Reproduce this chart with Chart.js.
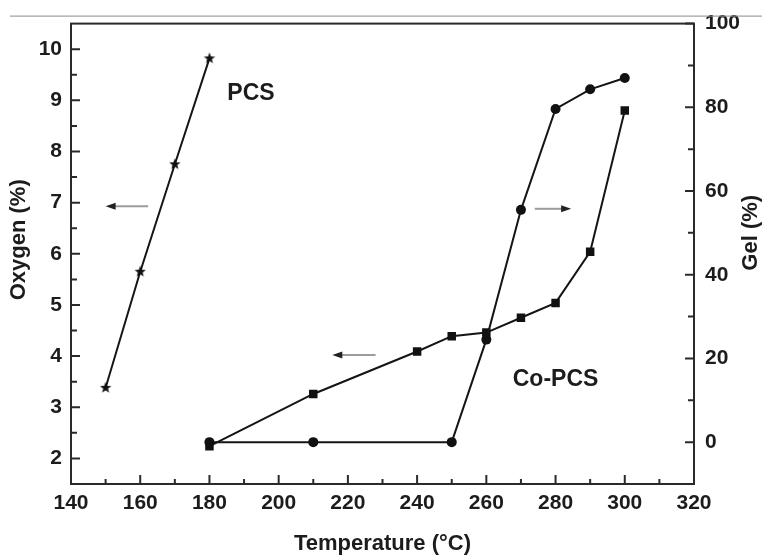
<!DOCTYPE html>
<html>
<head>
<meta charset="utf-8">
<script src="https://cdn.jsdelivr.net/npm/chart.js@4.4.1/dist/chart.umd.min.js"></script>
<style>
  html, body { margin: 0; padding: 0; background: #fff; }
  #wrap { width: 762px; height: 557px; }
</style>
</head>
<body>
<div id="wrap"><canvas id="chart" width="762" height="557"></canvas></div>
<script>
/* ---------- data ---------- */
// PCS: oxygen content vs curing temperature
const pcsTemp = [150, 160, 170, 180];
const pcsOxygen = [3.38, 5.65, 7.75, 9.82];

// Co-PCS: oxygen content and gel fraction vs curing temperature
const coTemp = [180, 210, 240, 250, 260, 270, 280, 290, 300];
const coOxygen = [2.24, 3.26, 4.09, 4.39, 4.46, 4.75, 5.04, 6.04, 8.80];
const gelTemp = [180, 210, 250, 260, 270, 280, 290, 300];
const gelValue = [0, 0, 0, 24.5, 55.5, 79.6, 84.3, 87.0];

// axis ticks
const tempTicks = [140, 160, 180, 200, 220, 240, 260, 280, 300, 320];
const tempMinor = [150, 170, 190, 210, 230, 250, 270, 290, 310];
const oxygenTicks = [2, 3, 4, 5, 6, 7, 8, 9, 10];
const oxygenMinor = [2.5, 3.5, 4.5, 5.5, 6.5, 7.5, 8.5, 9.5];
const gelTicks = [0, 20, 40, 60, 80, 100];
const gelMinor = [10, 30, 50, 70, 90];

const FONT = '"Liberation Sans", Arial, sans-serif';
const INK = '#1c1c1c';

/* filled five-point star used as the PCS marker */
function starMarker(r) {
  const c = document.createElement('canvas');
  c.width = c.height = r * 2 + 2;
  const g = c.getContext('2d');
  g.translate(r + 1, r + 1);
  g.beginPath();
  for (let i = 0; i < 10; i++) {
    const rad = i % 2 === 0 ? r : r * 0.42;
    const ang = -Math.PI / 2 + i * Math.PI / 5;
    g.lineTo(rad * Math.cos(ang), rad * Math.sin(ang));
  }
  g.closePath();
  g.fillStyle = '#111';
  g.fill();
  return c;
}

function toPoints(xs, ys) {
  return xs.map((v, i) => ({ x: v, y: ys[i] }));
}

function arrow(ctx, x1, y1, x2, y2) {
  // shaft from (x1,y1), head at (x2,y2)
  const dir = Math.sign(x2 - x1);
  ctx.strokeStyle = '#9c9c9c';
  ctx.lineWidth = 2;
  ctx.beginPath();
  ctx.moveTo(x1, y1);
  ctx.lineTo(x2 - dir * 8, y2);
  ctx.stroke();
  ctx.fillStyle = '#222';
  ctx.beginPath();
  ctx.moveTo(x2, y2);
  ctx.lineTo(x2 - dir * 10, y2 - 3.5);
  ctx.lineTo(x2 - dir * 10, y2 + 3.5);
  ctx.closePath();
  ctx.fill();
}

/* frame, inward ticks, titles, labels, arrows */
const decor = {
  id: 'decor',
  afterDraw(chart) {
    const { ctx, chartArea: a } = chart;
    const { x, y, y2 } = chart.scales;
    ctx.save();

    // thin rule above the plot
    ctx.strokeStyle = '#8c8c8c';
    ctx.lineWidth = 1;
    ctx.beginPath();
    ctx.moveTo(10, a.top - 7.5);
    ctx.lineTo(762, a.top - 7.5);
    ctx.stroke();

    // plot frame
    ctx.strokeStyle = '#2a2a2a';
    ctx.lineWidth = 2;
    ctx.strokeRect(a.left, a.top, a.right - a.left, a.bottom - a.top);

    // ticks pointing into the plot
    ctx.beginPath();
    const tick = (list, len, fn) => list.forEach(v => fn(v, len));
    const bottomTick = (v, len) => { const p = x.getPixelForValue(v); ctx.moveTo(p, a.bottom); ctx.lineTo(p, a.bottom - len); };
    const leftTick = (v, len) => { const p = y.getPixelForValue(v); ctx.moveTo(a.left, p); ctx.lineTo(a.left + len, p); };
    const rightTick = (v, len) => { const p = y2.getPixelForValue(v); ctx.moveTo(a.right, p); ctx.lineTo(a.right - len, p); };
    tick(tempTicks, 9, bottomTick);
    tick(tempMinor, 5, bottomTick);
    tick(oxygenTicks, 9, leftTick);
    tick(oxygenMinor, 6, leftTick);
    tick(gelTicks, 9, rightTick);
    tick(gelMinor, 6, rightTick);
    ctx.stroke();

    // rotated axis titles
    ctx.fillStyle = INK;
    ctx.font = 'bold 22px ' + FONT;
    ctx.textAlign = 'center';
    ctx.textBaseline = 'middle';
    const mid = (a.top + a.bottom) / 2;
    ctx.save();
    ctx.translate(a.left - 52, mid - 14);
    ctx.rotate(-Math.PI / 2);
    ctx.fillText('Oxygen (%)', 0, 0);
    ctx.restore();
    ctx.save();
    ctx.translate(a.right + 57, mid - 21);
    ctx.rotate(-Math.PI / 2);
    ctx.fillText('Gel (%)', 0, 0);
    ctx.restore();

    // series labels
    ctx.font = 'bold 23px ' + FONT;
    ctx.fillText('PCS', x.getPixelForValue(192), y.getPixelForValue(9.14));
    ctx.fillText('Co-PCS', x.getPixelForValue(280), y.getPixelForValue(3.54));

    // arrows showing which axis each curve belongs to
    arrow(ctx, x.getPixelForValue(162.3), y.getPixelForValue(6.93), x.getPixelForValue(150), y.getPixelForValue(6.93));
    arrow(ctx, x.getPixelForValue(274), y.getPixelForValue(6.88), x.getPixelForValue(284.5), y.getPixelForValue(6.88));
    arrow(ctx, x.getPixelForValue(228), y.getPixelForValue(4.02), x.getPixelForValue(215.5), y.getPixelForValue(4.02));

    ctx.restore();
  }
};

const tickFont = { family: FONT, size: 21, weight: 'bold' };
const asTicks = list => scale => { scale.ticks = list.map(v => ({ value: v })); };

new Chart(document.getElementById('chart'), {
  type: 'line',
  data: {
    datasets: [
      {
        label: 'PCS oxygen',
        data: toPoints(pcsTemp, pcsOxygen),
        yAxisID: 'y',
        borderColor: '#151515',
        borderWidth: 2,
        pointStyle: starMarker(6),
        pointRadius: 6,
        tension: 0
      },
      {
        label: 'Co-PCS gel',
        data: toPoints(gelTemp, gelValue),
        yAxisID: 'y2',
        borderColor: '#151515',
        backgroundColor: '#111',
        borderWidth: 2,
        pointStyle: 'circle',
        pointRadius: 5,
        pointBorderWidth: 0,
        tension: 0
      },
      {
        label: 'Co-PCS oxygen',
        data: toPoints(coTemp, coOxygen),
        yAxisID: 'y',
        borderColor: '#151515',
        backgroundColor: '#111',
        borderWidth: 2,
        pointStyle: 'rect',
        pointRadius: 6,
        pointBorderWidth: 0,
        tension: 0
      }
    ]
  },
  options: {
    responsive: false,
    animation: false,
    events: [],
    layout: { padding: { top: 22, left: 0, right: 0, bottom: 0 } },
    plugins: { legend: { display: false }, tooltip: { enabled: false } },
    scales: {
      x: {
        type: 'linear',
        position: 'bottom',
        min: 140,
        max: 320,
        afterBuildTicks: asTicks(tempTicks),
        afterFit: s => { s.height = 73; },
        grid: { display: false, drawTicks: false },
        border: { display: false },
        ticks: { font: tickFont, color: INK, padding: 7, maxRotation: 0 },
        title: {
          display: true,
          text: 'Temperature (°C)',
          color: INK,
          font: { family: FONT, size: 22, weight: 'bold' },
          padding: { top: 0, bottom: 0 }
        }
      },
      y: {
        type: 'linear',
        position: 'left',
        min: 1.5,
        max: 10.5,
        afterBuildTicks: asTicks(oxygenTicks),
        afterFit: s => { s.width = 71; },
        grid: { display: false, drawTicks: false },
        border: { display: false },
        ticks: { font: tickFont, color: INK, padding: 9 }
      },
      y2: {
        type: 'linear',
        position: 'right',
        min: -10,
        max: 100,
        afterBuildTicks: asTicks(gelTicks),
        afterFit: s => { s.width = 68; },
        grid: { display: false, drawTicks: false },
        border: { display: false },
        ticks: { font: tickFont, color: INK, padding: 11 }
      }
    }
  },
  plugins: [decor]
});
</script>
</body>
</html>
